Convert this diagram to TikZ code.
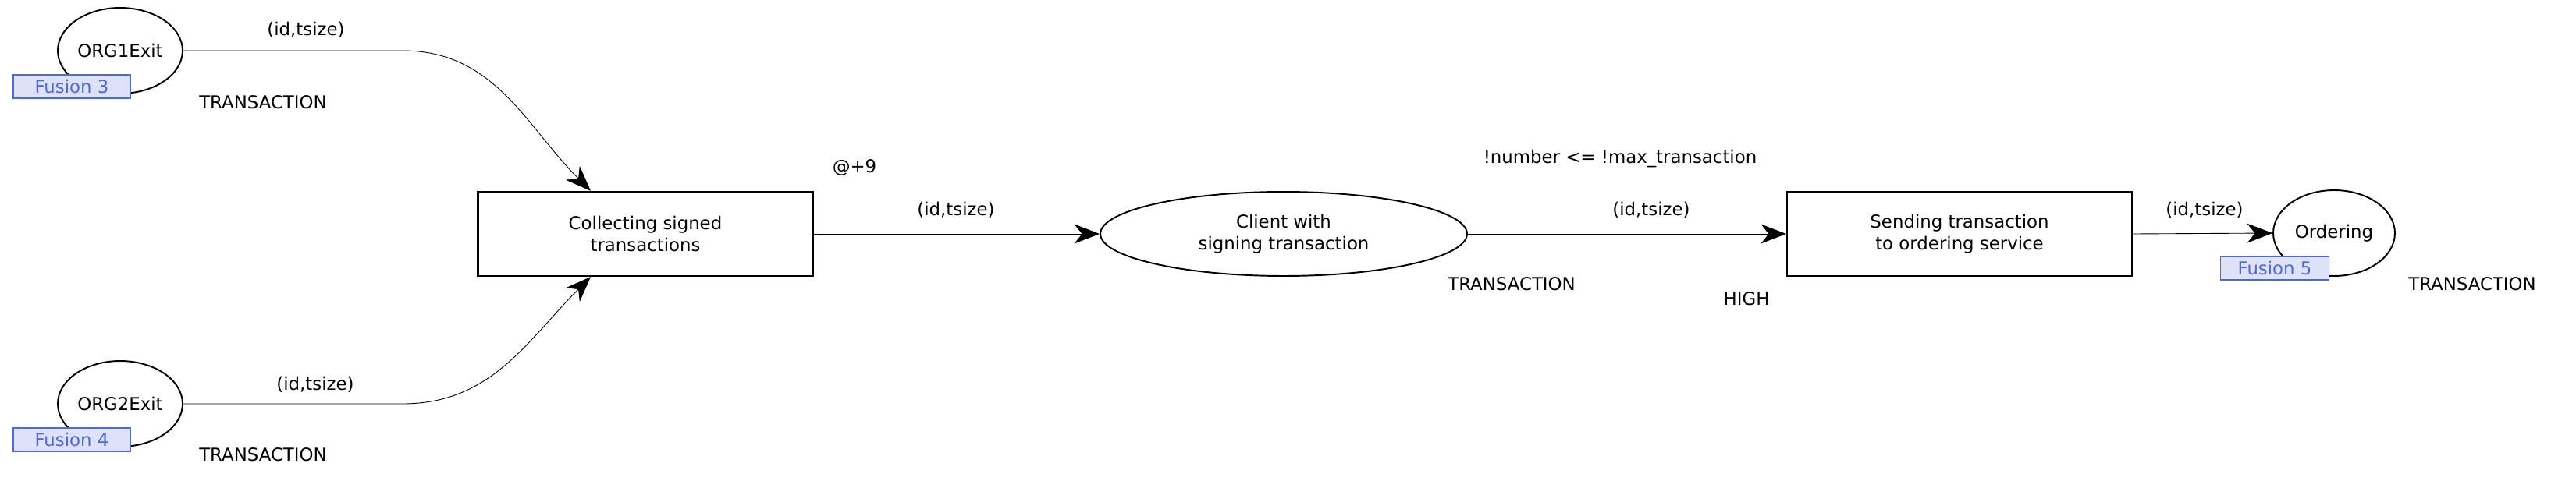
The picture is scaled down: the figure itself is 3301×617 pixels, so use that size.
\documentclass[tikz,border=0pt]{standalone}
\usepackage{fontspec}
\setmainfont{DejaVu Sans}
\usetikzlibrary{arrows.meta,shapes.geometric}
\definecolor{fusfill}{HTML}{DDE2F8}
\definecolor{fusline}{HTML}{4F6AD8}
\begin{document}
\begin{tikzpicture}[x=0.02cm,y=-0.02cm,
  every node/.style={font=\fontsize{13}{16}\selectfont},
  place/.style={draw,ellipse,line width=1.1pt,inner sep=0pt},
  trans/.style={draw,rectangle,line width=1.3pt,inner sep=0pt,align=center},
  fusion/.style={draw=fusline,fill=fusfill,text=fusline,line width=1pt,inner sep=1pt,minimum height=0.6cm},
  lbl/.style={inner sep=1pt},
  arc/.style={line width=0.5pt,-{Stealth[length=0.65cm,width=0.5cm,inset=0.2cm]}}]
\useasboundingbox (0,0) rectangle (3301,617);
% places
\node[place,minimum width=3.2cm,minimum height=2.2cm] (org1) at (154,65) {ORG1Exit};
\node[place,minimum width=3.2cm,minimum height=2.2cm] (org2) at (154,518) {ORG2Exit};
\node[place,minimum width=9.4cm,minimum height=2.16cm,align=center] (client) at (1645,300) {Client with\\signing transaction};
\node[place,minimum width=3.12cm,minimum height=2.2cm] (ord) at (2991,299) {Ordering};
% fusion tags
\node[fusion,minimum width=3.0cm] (f3) at (92,111) {Fusion 3};
\node[fusion,minimum width=3.0cm] (f4) at (92,564) {Fusion 4};
\node[fusion,minimum width=2.78cm] (f5) at (2915,344) {Fusion 5};
% transitions
\node[trans,minimum width=8.58cm,minimum height=2.16cm] (coll) at (827,300) {Collecting signed\\transactions};
\node[trans,minimum width=8.84cm,minimum height=2.16cm] (send) at (2511,300) {Sending transaction\\to ordering service};
% labels
\node[lbl] (t1) at (337,131) {TRANSACTION};
\node[lbl] (t2) at (337,583) {TRANSACTION};
\node[lbl] (t3) at (1937,364) {TRANSACTION};
\node[lbl] (t4) at (3168,364) {TRANSACTION};
\node[lbl] (time) at (1095,215) {@+9};
\node[lbl] (guard) at (2076,204) {!number <= !max\_transaction};
\node[lbl] (prio) at (2238,383) {HIGH};
% arcs
\coordinate (b1) at (516,65);
\coordinate (b2) at (516,518);
\draw[arc] (org1.east) -- (b1) to[out=0,in=135] (coll.north -| 757,0) node[lbl,pos=0] (a1) {};
\draw[arc] (org2.east) -- (b2) to[out=0,in=-135] (coll.south -| 757,0);
\draw[arc] (coll.east) -- (client.west);
\draw[arc] (client.east) -- (send.west);
\draw[arc] (send.east) -- (ord.west);
\node[lbl] (l1) at (392,38) {(id,tsize)};
\node[lbl] (l2) at (404,493) {(id,tsize)};
\node[lbl] (l3) at (1225,269) {(id,tsize)};
\node[lbl] (l4) at (2116,269) {(id,tsize)};
\node[lbl] (l5) at (2825,269) {(id,tsize)};
\end{tikzpicture}
\end{document}
